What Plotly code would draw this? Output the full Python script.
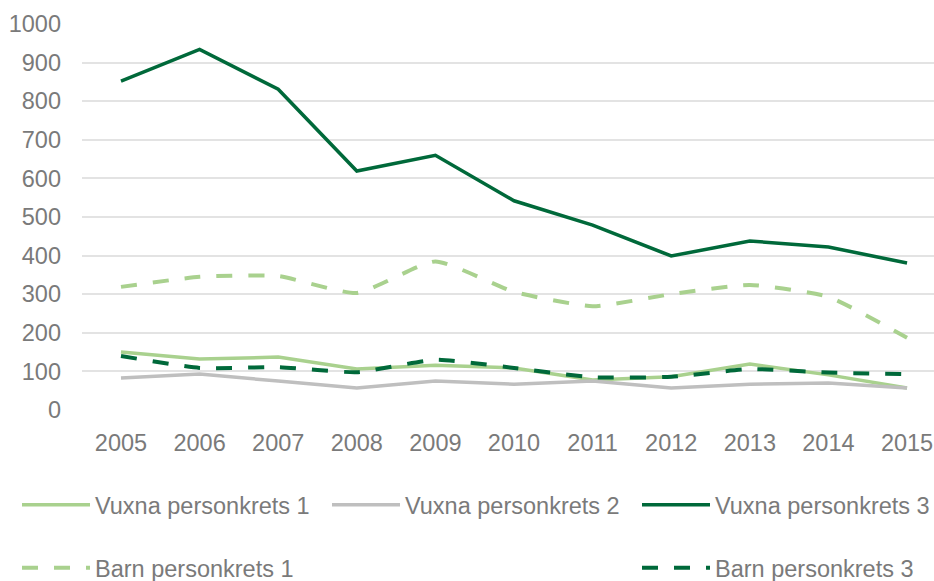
import plotly.graph_objects as go

years = [2005, 2006, 2007, 2008, 2009, 2010, 2011, 2012, 2013, 2014, 2015]
vuxna1 = [150, 132, 137, 106, 116, 109, 78, 86, 119, 91, 57]
vuxna2 = [83, 93, 75, 57, 75, 67, 75, 57, 67, 70, 57]
vuxna3 = [852, 934, 831, 619, 660, 542, 479, 399, 438, 422, 381]
barn1 = [319, 345, 347, 303, 385, 306, 269, 300, 324, 293, 187]
barn3 = [140, 109, 111, 98, 130, 109, 85, 86, 106, 97, 93]
y_ticks = [0, 100, 200, 300, 400, 500, 600, 700, 800, 900, 1000]

LIGHT = "#A9D18E"
GRAY = "#BFBFBF"
DARK = "#00693A"
TXT = "#7A7A7A"
FONT = "Liberation Sans, Arial, sans-serif"
FS = 23.5

fig = go.Figure()
fig.add_trace(go.Scatter(x=years, y=vuxna1, name="Vuxna personkrets 1", mode="lines",
                         line=dict(color=LIGHT, width=3.5), legend="legend"))
fig.add_trace(go.Scatter(x=years, y=vuxna2, name="Vuxna personkrets 2", mode="lines",
                         line=dict(color=GRAY, width=3.5), legend="legend2"))
fig.add_trace(go.Scatter(x=years, y=vuxna3, name="Vuxna personkrets 3", mode="lines",
                         line=dict(color=DARK, width=3.5), legend="legend3"))
fig.add_trace(go.Scatter(x=years, y=barn1, name="Barn personkrets 1", mode="lines",
                         line=dict(color=LIGHT, width=4, dash="16px,16px", shape="spline", smoothing=0.5),
                         legend="legend4"))
fig.add_trace(go.Scatter(x=years, y=barn3, name="Barn personkrets 3", mode="lines",
                         line=dict(color=DARK, width=4, dash="16px,16px", shape="spline", smoothing=0.5),
                         legend="legend5"))

def leg(xpx, ypx):
    return dict(orientation="v", xref="container", yref="container",
                x=xpx / 934, y=1 - ypx / 581, xanchor="left", yanchor="middle",
                itemwidth=68,
                font=dict(family=FONT, size=FS, color=TXT), bgcolor="rgba(0,0,0,0)")

fig.update_layout(
    width=934, height=581,
    margin=dict(l=82, r=0, t=24, b=171, autoexpand=False),
    plot_bgcolor="white", paper_bgcolor="white",
    font=dict(family=FONT, size=FS, color=TXT),
    xaxis=dict(range=[2004.504, 2015.343], tickmode="array", tickvals=years,
               ticktext=[str(y) for y in years], showgrid=False, zeroline=False,
               showline=False, ticks="", ticklabelstandoff=16, automargin=False,
               tickfont=dict(family=FONT, size=FS, color=TXT)),
    yaxis=dict(range=[0, 1000], tickmode="array", tickvals=y_ticks,
               showgrid=True, gridcolor="#E3E3E3", gridwidth=1.5, zeroline=False,
               showline=False, ticks="", ticklabelstandoff=20, automargin=False,
               tickfont=dict(family=FONT, size=FS, color=TXT)),
    legend=leg(17, 505),
    legend2=leg(327, 505),
    legend3=leg(637, 505),
    legend4=leg(17, 568),
    legend5=leg(637, 568),
    showlegend=True,
)

fig.write_html(
    "out.html",
    config={"displayModeBar": False},
    post_script="document.body.style.margin='0';document.body.style.overflow='hidden';",
)
